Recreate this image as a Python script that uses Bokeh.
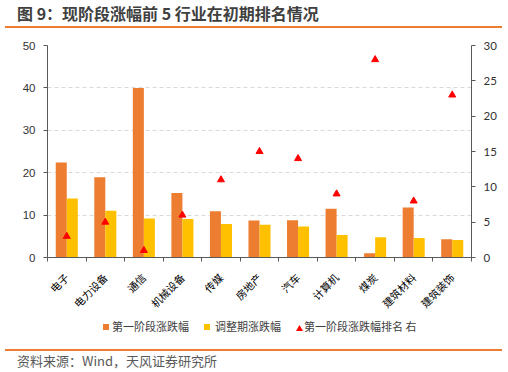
from bokeh.plotting import figure
from bokeh.models import (Range1d, LinearAxis, FixedTicker, Div)
from bokeh.layouts import column
from bokeh.embed import file_html
from bokeh.resources import INLINE

categories = ["电子", "电力设备", "通信", "机械设备", "传媒", "房地产", "汽车", "计算机", "煤炭", "建筑材料", "建筑装饰"]
stage1 = [22.4, 18.9, 40.0, 15.2, 10.9, 8.7, 8.8, 11.5, 1.0, 11.8, 4.3]
adjust = [13.9, 11.0, 9.2, 9.1, 7.9, 7.7, 7.3, 5.3, 4.8, 4.6, 4.1]
rank = [3, 5, 1, 6, 11, 15, 14, 9, 28, 8, 23]
left_ticks = [0, 10, 20, 30, 40, 50]
right_ticks = [0, 5, 10, 15, 20, 25, 30]
series_names = ["第一阶段涨跌幅", "调整期涨跌幅", "第一阶段涨跌幅排名 右"]
title_text = "图 9：现阶段涨幅前 5 行业在初期排名情况"
source_text = "资料来源：Wind，天风证券研究所"

ORANGE = "#ED7D31"
YELLOW = "#FFC000"
RED = "#FF0000"
AXIS = "#595959"
CJK = "Noto Sans CJK SC"

n = len(categories)
idx = list(range(n))
bw = 0.286

p = figure(width=508, height=288, x_range=Range1d(-0.5, n - 0.5), y_range=Range1d(0, 50),
           output_backend="svg", toolbar_location=None,
           min_border_left=47, min_border_right=37, min_border_top=15, min_border_bottom=59)
p.extra_y_ranges = {"rank": Range1d(0, 30)}
p.outline_line_color = None
p.xgrid.grid_line_color = None
p.ygrid.grid_line_color = "#D9D9D9"
p.ygrid.grid_line_dash = "4 3"
p.ygrid.ticker = FixedTicker(ticks=left_ticks)

p.vbar(x=[i - bw / 2 for i in idx], top=stage1, width=bw, fill_color=ORANGE, line_color=None)
p.vbar(x=[i + bw / 2 for i in idx], top=adjust, width=bw, fill_color=YELLOW, line_color=None)
p.scatter(x=idx, y=rank, y_range_name="rank", marker="triangle", size=7,
          fill_color=RED, line_color=RED)

# bottom axis: labels at category centres, tick marks at category boundaries
xa = p.xaxis[0]
xa.ticker = FixedTicker(ticks=idx, minor_ticks=[i - 0.5 for i in range(n + 1)])
xa.major_label_overrides = {i: c for i, c in enumerate(categories)}
xa.major_label_orientation = 0.785398
xa.major_tick_line_color = None
xa.major_tick_out = 0
xa.major_tick_in = 0
xa.minor_tick_line_color = AXIS
xa.minor_tick_out = 4
xa.minor_tick_in = 0
xa.axis_line_color = AXIS
xa.major_label_text_font = CJK
xa.major_label_text_font_size = "10.5px"
xa.major_label_text_color = "#000000"
xa.major_label_standoff = 14

ya = p.yaxis[0]
ya.ticker = FixedTicker(ticks=left_ticks)
ya.axis_line_color = AXIS
ya.major_tick_line_color = AXIS
ya.major_tick_out = 4
ya.major_tick_in = 0
ya.minor_tick_line_color = None
ya.major_label_text_font = "Liberation Sans"
ya.major_label_text_font_size = "11.5px"
ya.major_label_text_color = "#333333"
ya.major_label_standoff = 8

ra = LinearAxis(y_range_name="rank", ticker=FixedTicker(ticks=right_ticks))
ra.axis_line_color = AXIS
ra.major_tick_line_color = AXIS
ra.major_tick_out = 4
ra.major_tick_in = 0
ra.minor_tick_line_color = None
ra.major_label_text_font = "Lato"
ra.major_label_text_font_size = "11.5px"
ra.major_label_text_color = "#333333"
ra.major_label_standoff = 8
p.add_layout(ra, "right")

# legend strip
tri_svg = (f'<svg style="position:absolute;left:296px;top:7px;" width="7" height="6">'
           f'<polygon points="3.5,0 7,6 0,6" fill="{RED}"/></svg>')
legend_html = (
    f'<div style="position:relative;width:508px;height:27px;font-family:\'{CJK}\';'
    'font-size:11px;line-height:16px;color:#404040;white-space:nowrap;">'
    f'<div style="position:absolute;left:103px;top:6px;width:6px;height:6px;background:{ORANGE};"></div>'
    f'<div style="position:absolute;left:112px;top:0px;">{series_names[0]}</div>'
    f'<div style="position:absolute;left:204px;top:6px;width:6px;height:6px;background:{YELLOW};"></div>'
    f'<div style="position:absolute;left:215px;top:0px;">{series_names[1]}</div>'
    f'{tri_svg}'
    f'<div style="position:absolute;left:304px;top:0px;">{series_names[2]}</div>'
    '</div>'
)
title_html = (
    '<div style="position:relative;width:508px;height:30px;">'
    f'<div style="position:absolute;left:17px;top:4px;white-space:nowrap;font-family:\'{CJK}\';'
    f'font-size:16px;line-height:18px;font-weight:bold;color:#404040;">{title_text}</div>'
    f'<div style="position:absolute;left:5px;top:26px;width:497px;height:1.5px;background:{ORANGE};"></div>'
    '</div>'
)
footer_html = (
    '<div style="position:relative;width:508px;height:27px;">'
    f'<div style="position:absolute;left:5px;top:4px;width:497px;height:1.5px;background:{ORANGE};"></div>'
    f'<div style="position:absolute;left:17px;top:8px;white-space:nowrap;font-family:\'{CJK}\';'
    f'font-size:13px;line-height:16px;color:#595959;">{source_text}</div>'
    '</div>'
)
title_div = Div(text=title_html, width=508, height=30, margin=(0, 0, 0, 0))
legend_div = Div(text=legend_html, width=508, height=27, margin=(0, 0, 0, 0))
footer_div = Div(text=footer_html, width=508, height=27, margin=(0, 0, 0, 0))

layout = column(title_div, p, legend_div, footer_div, spacing=0)
open("out.html", "w").write(file_html(layout, INLINE))
